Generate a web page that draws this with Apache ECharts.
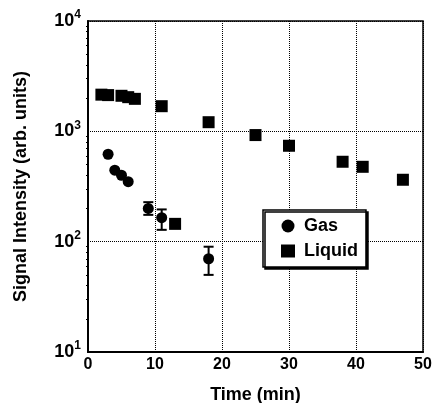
<!DOCTYPE html>
<html><head><meta charset="utf-8">
<script src="https://cdn.jsdelivr.net/npm/echarts@6/dist/echarts.min.js"></script>
<style>html,body{margin:0;padding:0;background:#fff}#c{width:432px;height:403px}</style>
</head><body><div id="c"></div>
<script>
const gasTime = [3, 4, 5, 6, 9, 11, 18];
const gasSignal = [620, 445, 400, 350, 200, 165, 70];
const gasErrLow = [null, null, null, null, 175, 128, 50];
const gasErrHigh = [null, null, null, null, 228, 196, 90];
const liquidTime = [2, 3, 5, 6, 7, 11, 13, 18, 25, 30, 38, 41, 47];
const liquidSignal = [2150, 2130, 2100, 2040, 1970, 1690, 145, 1210, 925, 740, 530, 477, 364];
const xTicks = [0, 10, 20, 30, 40, 50];
const yTicks = [10, 100, 1000, 10000];

const FONT = '"Liberation Sans", Arial, sans-serif';
const chart = echarts.init(document.getElementById('c'), null, {renderer: 'canvas'});
const errData = gasTime.map((t, i) => [t, gasErrLow[i], gasErrHigh[i]]).filter(d => d[1] != null);

chart.setOption({
  animation: false,
  backgroundColor: '#fff',
  grid: {left: 88, right: 9, top: 21, bottom: 51, show: true, borderColor: '#000', borderWidth: 1.5,
    containLabel: false, outerBoundsMode: 'none'},
  legend: {
    orient: 'vertical', left: 263, top: 210,
    padding: [7, 8, 7, 18], itemGap: 7, itemWidth: 14, itemHeight: 13,
    backgroundColor: '#fff', borderColor: '#000', borderWidth: 1.5,
    shadowColor: '#000', shadowOffsetX: 2, shadowOffsetY: 2, shadowBlur: 0,
    textStyle: {fontFamily: FONT, fontWeight: 'bold', fontSize: 18, color: '#000', padding: [0, 0, 0, 4]},
    data: [{name: 'Gas', icon: 'circle'}, {name: 'Liquid', icon: 'rect'}]
  },
  xAxis: {
    type: 'value', min: 0, max: 50, interval: 10,
    name: 'Time (min)', nameLocation: 'middle', nameGap: 34,
    nameTextStyle: {fontFamily: FONT, fontWeight: 'bold', fontSize: 18, color: '#000'},
    axisLine: {lineStyle: {color: '#000', width: 2}},
    axisTick: {show: false},
    axisLabel: {fontFamily: FONT, fontWeight: 'bold', fontSize: 16, color: '#000', margin: 5,
      formatter: v => xTicks.includes(v) ? String(v) : ''},
    splitLine: {show: true, lineStyle: {color: '#000', type: 'dotted', width: 1}}
  },
  yAxis: {
    type: 'log', logBase: 10, min: 10, max: 10000,
    name: 'Signal Intensity (arb. units)', nameLocation: 'middle', nameGap: 58,
    nameTextStyle: {fontFamily: FONT, fontWeight: 'bold', fontSize: 18, color: '#000'},
    axisLine: {lineStyle: {color: '#000', width: 2}},
    axisTick: {show: false},
    minorTick: {show: true, splitNumber: 9, length: 2, lineStyle: {color: '#000', width: 1}},
    axisLabel: {
      margin: 7,
      formatter: v => {
        const n = Math.round(Math.log10(v));
        return yTicks.includes(Math.round(v)) ? '{b|10}{s|' + n + '}' : '';
      },
      rich: {
        b: {fontFamily: FONT, fontWeight: 'bold', fontSize: 18, color: '#000'},
        s: {fontFamily: FONT, fontWeight: 'bold', fontSize: 12, color: '#000', padding: [0, 0, 12, 0]}
      }
    },
    splitLine: {show: true, lineStyle: {color: '#000', type: 'dotted', width: 1}}
  },
  series: [
    {
      name: 'Gas', type: 'scatter', symbol: 'circle', symbolSize: 11,
      itemStyle: {color: '#000', opacity: 1},
      data: gasTime.map((t, i) => [t, gasSignal[i]]), z: 5
    },
    {
      name: 'Liquid', type: 'scatter', symbol: 'rect', symbolSize: 12,
      itemStyle: {color: '#000', opacity: 1},
      data: liquidTime.map((t, i) => [t, liquidSignal[i]]), z: 5
    },
    {
      name: 'GasErr', type: 'custom', z: 4,
      data: errData,
      encode: {x: 0, y: [1, 2]},
      renderItem: (params, api) => {
        const lo = api.coord([api.value(0), api.value(1)]);
        const hi = api.coord([api.value(0), api.value(2)]);
        const w = 5;
        const st = {stroke: '#000', lineWidth: 2};
        return {type: 'group', children: [
          {type: 'line', shape: {x1: lo[0], y1: lo[1], x2: hi[0], y2: hi[1]}, style: st},
          {type: 'line', shape: {x1: lo[0] - w, y1: lo[1], x2: lo[0] + w, y2: lo[1]}, style: st},
          {type: 'line', shape: {x1: hi[0] - w, y1: hi[1], x2: hi[0] + w, y2: hi[1]}, style: st}
        ]};
      }
    }
  ]
});
</script></body></html>
